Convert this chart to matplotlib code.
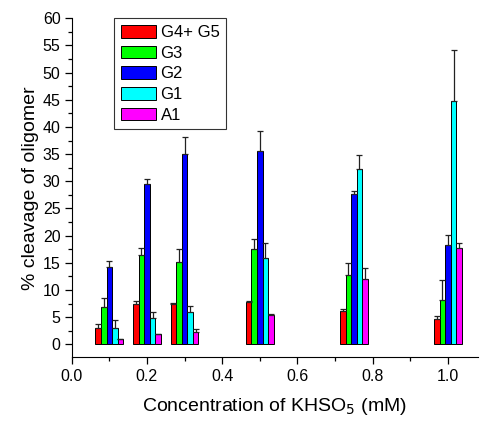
import numpy as np
import matplotlib
matplotlib.use("Agg")
import matplotlib.pyplot as plt
from matplotlib.ticker import MultipleLocator

plt.rcParams['font.family'] = ['Liberation Sans', 'DejaVu Sans']

# KHSO5 concentrations (mM)
conc = [0.1, 0.2, 0.3, 0.5, 0.75, 1.0]
series = ["G4+ G5", "G3", "G2", "G1", "A1"]

g45 = [3.0, 7.4, 7.4, 7.8, 6.1, 4.7]
g45_err = [0.7, 0.5, 0.3, 0.1, 0.5, 0.6]
g3 = [6.9, 16.5, 15.1, 17.5, 12.7, 8.2]
g3_err = [1.6, 1.2, 2.4, 1.8, 2.2, 3.6]
g2 = [14.2, 29.5, 35.0, 35.5, 27.6, 18.3]
g2_err = [1.2, 0.9, 3.1, 3.7, 0.6, 1.8]
g1 = [3.1, 4.8, 6.0, 15.8, 32.3, 44.7]
g1_err = [1.3, 1.1, 1.0, 2.9, 2.5, 9.5]
a1 = [0.9, 1.9, 2.2, 5.4, 12.1, 17.7]
a1_err = [0.1, 0.1, 0.7, 0.2, 1.9, 0.9]

values = [g45, g3, g2, g1, a1]
errors = [g45_err, g3_err, g2_err, g1_err, a1_err]
colors = ["#FF0000", "#00FF00", "#0000FF", "#00FFFF", "#FF00FF"]

fig = plt.figure(figsize=(4.81, 4.23), dpi=100)
ax = fig.add_axes([0.149, 0.155, 0.845, 0.802])

width = 0.0148
x = np.array(conc)
for i, (vals, errs, col, name) in enumerate(zip(values, errors, colors, series)):
    offs = (i - 2) * width
    ax.bar(x + offs, vals, width=width, color=col, edgecolor="black",
           linewidth=0.7, label=name,
           yerr=[np.zeros(len(errs)), errs], capsize=2.2,
           error_kw=dict(ecolor="#222222", elinewidth=0.9, capthick=0.9))

ax.set_xlim(0.0, 1.08)
ax.set_ylim(-2.4, 60)
ax.xaxis.set_major_locator(MultipleLocator(0.2))
ax.xaxis.set_minor_locator(MultipleLocator(0.1))
ax.yaxis.set_major_locator(MultipleLocator(5))
ax.yaxis.set_minor_locator(MultipleLocator(2.5))
ax.set_yticks(np.arange(0, 61, 5))
ax.set_xticks(np.arange(0, 1.01, 0.2))
ax.set_xticklabels(["0.0", "0.2", "0.4", "0.6", "0.8", "1.0"])

ax.spines["top"].set_visible(False)
ax.spines["right"].set_visible(False)
ax.tick_params(axis="both", which="major", direction="out", length=5,
               width=0.9, labelsize=11.5, pad=3)
ax.tick_params(axis="both", which="minor", direction="out", length=3,
               width=0.9)

ax.set_xlabel("Concentration of KHSO$_5$ (mM)", fontsize=14, labelpad=9)
ax.set_ylabel("% cleavage of oligomer", fontsize=14, labelpad=3)

leg = ax.legend(loc="upper left", bbox_to_anchor=(0.104, 1.0), fontsize=12,
                frameon=True, fancybox=False, edgecolor="black",
                handlelength=2.1, handleheight=0.8, handletextpad=0.3,
                labelspacing=0.33, borderpad=0.4, borderaxespad=0.0)
leg.get_frame().set_linewidth(0.8)

fig.savefig("out.png", dpi=100)
